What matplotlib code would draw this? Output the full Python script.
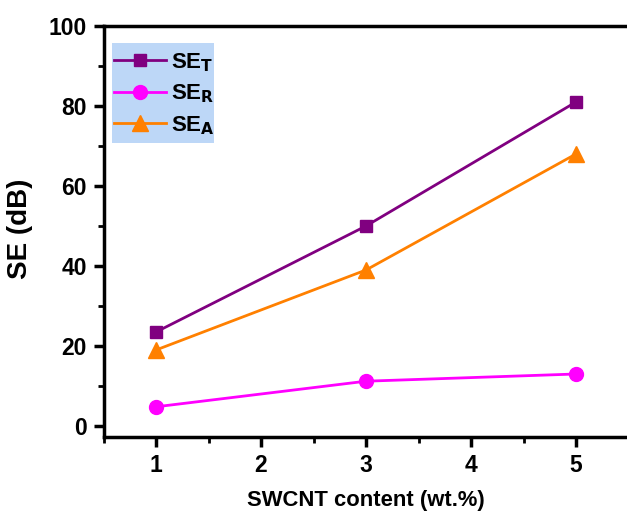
import numpy as np
import matplotlib.pyplot as plt
from matplotlib.patches import Rectangle
from matplotlib.ticker import MultipleLocator

plt.rcParams['font.family'] = ['Liberation Sans', 'DejaVu Sans']
plt.rcParams['font.weight'] = 'bold'

content = [1, 3, 5]
se_t = [23.5, 50.0, 81.0]
se_r = [4.8, 11.2, 13.0]
se_a = [19.0, 39.0, 68.0]

fig = plt.figure(figsize=(6.27, 5.12), dpi=100)
ax = fig.add_axes([103.5 / 627, 1 - 437 / 512, 525.0 / 627, 411.0 / 512])

ax.plot(content, se_t, color='#800080', lw=2, marker='s', ms=9, label='SE$_\\mathbf{T}$')
ax.plot(content, se_r, color='#ff00ff', lw=2, marker='o', ms=10, label='SE$_\\mathbf{R}$')
ax.plot(content, se_a, color='#ff8000', lw=2, marker='^', ms=11.5, label='SE$_\\mathbf{A}$')

ax.set_xlim(0.5, 5.5)
ax.set_ylim(-2.75, 100)
ax.xaxis.set_major_locator(MultipleLocator(1))
ax.xaxis.set_minor_locator(MultipleLocator(0.5))
ax.yaxis.set_major_locator(MultipleLocator(20))
ax.yaxis.set_minor_locator(MultipleLocator(10))

for s in ax.spines.values():
    s.set_linewidth(2.5)
ax.tick_params(which='major', direction='out', length=7, width=2.5, labelsize=16.5)
ax.tick_params(axis='x', which='major', pad=5)
ax.tick_params(axis='y', which='major', pad=5)
ax.tick_params(which='minor', direction='out', length=4, width=2)
for lab in ax.get_xticklabels() + ax.get_yticklabels():
    lab.set_fontweight('bold')

ax.set_xlabel('SWCNT content (wt.%)', fontsize=15.8, fontweight='bold')
ax.set_ylabel('SE (dB)', fontsize=20, fontweight='bold')
ax.xaxis.set_label_coords(0.5, -0.13)
ax.yaxis.set_label_coords(-0.134, 0.506)

# light blue panel behind the legend
ax.add_patch(Rectangle((0.0162, 0.7153), 0.194, 0.2433, transform=ax.transAxes,
                       facecolor='#bdd7f7', edgecolor='none', zorder=4))
leg = ax.legend(loc='upper left', bbox_to_anchor=(0.02, 0.939), frameon=False,
                fontsize=16, handlelength=2.35, borderpad=0,
                labelspacing=0.4, handletextpad=0.2, borderaxespad=0)
leg.set_zorder(5)
for t in leg.get_texts():
    t.set_fontweight('bold')

fig.savefig('out.png', dpi=100)
